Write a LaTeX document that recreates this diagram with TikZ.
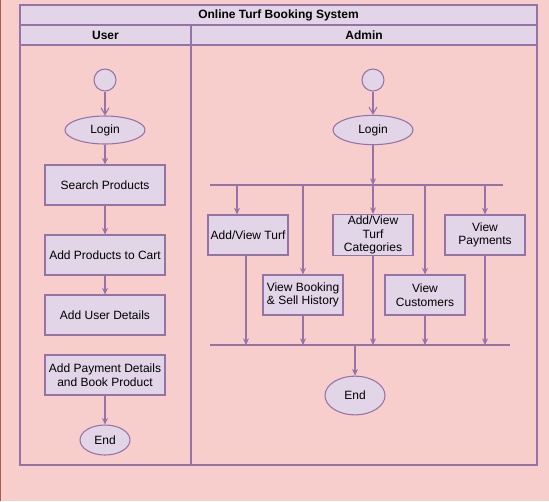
\documentclass[tikz,border=0pt]{standalone}
\usepackage{fontspec}
\setmainfont{Liberation Sans}
\usetikzlibrary{arrows.meta,shapes.geometric}

\definecolor{bgpink}{HTML}{F8CECC}
\definecolor{bgred}{HTML}{B85450}
\definecolor{lilac}{HTML}{E1D5E7}
\definecolor{plum}{HTML}{9673A6}

\tikzset{
  lane/.style={draw=plum, line width=0.8pt},
  act/.style={draw=plum, fill=lilac, line width=0.8pt, rectangle, inner sep=1pt,
    align=center, font=\fontsize{9}{10.2}\selectfont},
  useract/.style={act, minimum width=90pt, minimum height=30pt},
  adminact/.style={act, minimum width=60pt, minimum height=30pt},
  oval/.style={draw=plum, fill=lilac, line width=0.8pt, ellipse, inner sep=0pt,
    font=\fontsize{9}{10.2}\selectfont},
  startdot/.style={draw=plum, fill=lilac, line width=0.8pt, circle, inner sep=0pt,
    minimum size=16.5pt},
  flow/.style={draw=plum, line width=0.8pt, -{Stealth[length=5pt,width=4.5pt]}},
  openflow/.style={draw=plum, line width=0.8pt, -{Straight Barb[length=5pt,width=6pt]}},
  barline/.style={draw=plum, line width=0.8pt}
}

\begin{document}
\begin{tikzpicture}[x=0.75pt, y=-0.75pt]

    \useasboundingbox (0,0) rectangle (549,501);

    % ==================================================
    % background and swimlanes
    % ==================================================

    \fill[bgpink] (0,0) rectangle (549,501);
    \draw[bgred, line width=1.5pt] (0,0) -- (0,501);

    % header rows
    \draw[lane, fill=lilac] (20,5) rectangle (537,45);
    \draw[lane] (20,25) -- (537,25);
    \draw[lane] (20,45) rectangle (537,465);
    \draw[lane] (191,25) -- (191,465);

    \node[font=\fontsize{9}{10}\selectfont\bfseries] (title) at (278.5,15) {Online Turf Booking System};
    \node[font=\fontsize{9}{10}\selectfont\bfseries] (userhead) at (105.5,35) {User};
    \node[font=\fontsize{9}{10}\selectfont\bfseries] (adminhead) at (364,35) {Admin};

    % ==================================================
    % User
    % ==================================================

    \node[startdot] (ustart) at (105,80) {};
    \node[oval, minimum width=60pt, minimum height=21pt] (ulogin) at (105,130) {Login};
    \node[useract] (search) at (105,185) {Search Products};
    \node[useract] (cart) at (105,255) {Add Products to Cart};
    \node[useract] (details) at (105,315) {Add User Details};
    \node[useract] (payment) at (105,375) {Add Payment Details\\and Book Product};
    \node[oval, minimum width=37.5pt, minimum height=22.5pt] (uend) at (105,440) {End};

    \draw[openflow] (ustart) -- (ulogin);
    \draw[flow] (ulogin) -- (search);
    \draw[flow] (search) -- (cart);
    \draw[flow] (cart) -- (details);
    \draw[flow] (payment) -- (uend);

    % ==================================================
    % Admin
    % ==================================================

    \node[startdot] (astart) at (373,80) {};
    \node[oval, minimum width=60pt, minimum height=22pt] (alogin) at (373,130) {Login};

    % fork and join bars
    \coordinate (forkL) at (210,185);
    \coordinate (forkR) at (503,185);
    \coordinate (joinL) at (210,345);
    \coordinate (joinR) at (510,345);
    \draw[barline] (forkL) -- (forkR);
    \draw[barline] (joinL) -- (joinR);

    % tasks
    \node[adminact] (turf) at (248,235) {Add/View Turf};
    \node[adminact] (booking) at (303,295) {View Booking\\\& Sell History};
    \node[adminact] (categ) at (373,235) {Add/View\\Turf\\Categories};
    \node[adminact] (customers) at (425,295) {View\\Customers};
    \node[adminact] (payments) at (485,235) {View\\Payments};

    \node[oval, minimum width=45pt, minimum height=29pt] (aend) at (355,395.5) {End};

    \draw[openflow] (astart) -- (alogin);
    \draw[flow] (alogin) -- (alogin |- forkL);

    % fork -> tasks
    \coordinate (fturf) at (237,185);
    \draw[flow] (fturf) -- (fturf |- turf.north);
    \draw[flow] (forkL -| booking.north) -- (booking);
    \draw[flow] (forkL -| categ.north) -- (categ);
    \draw[flow] (forkL -| customers.north) -- (customers);
    \draw[flow] (forkL -| payments.north) -- (payments);

    % tasks -> join
    \coordinate (jturf) at (246,345);
    \draw[flow] (jturf |- turf.south) -- (jturf);
    \draw[flow] (booking) -- (joinL -| booking.south);
    \draw[flow] (categ) -- (joinL -| categ.south);
    \draw[flow] (customers) -- (joinL -| customers.south);
    \draw[flow] (payments) -- (joinL -| payments.south);

    \draw[flow] (joinL -| aend.north) -- (aend);

  \end{tikzpicture}
\end{document}
